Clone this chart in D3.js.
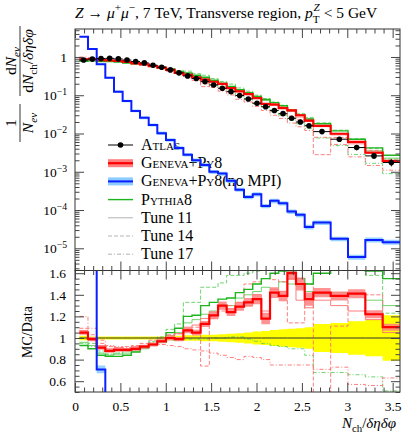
<!DOCTYPE html>
<html>
<head>
<meta charset="UTF-8">
<script src="https://d3js.org/d3.v7.min.js"></script>
<style>
body { margin: 0; background: #fff; }
svg text { font-family: "Liberation Serif", "DejaVu Serif", serif; }
.axis .domain { display: none; }
.axis line { stroke: #444; }
</style>
</head>
<body>
<svg width="415" height="433"></svg>
<script>

// bin edges in Nch/deta dphi (one charged particle = 1/10.472, wider bins at the end)
var binEdges = [0.048, 0.143, 0.239, 0.334, 0.430, 0.525, 0.621, 0.716, 0.812, 0.907,
  1.003, 1.098, 1.194, 1.289, 1.384, 1.480, 1.576, 1.671, 1.767, 1.862,
  1.958, 2.053, 2.149, 2.244, 2.340, 2.435, 2.531, 2.626, 2.817, 3.008,
  3.199, 3.390, 3.581];

var atlas = [0.83, 0.88, 0.91, 0.92, 0.89, 0.83, 0.76, 0.70, 0.61, 0.54,
  0.46, 0.385, 0.32, 0.275, 0.227, 0.186, 0.152, 0.124, 0.098, 0.080,
  0.062, 0.050, 0.040, 0.033, 0.025, 0.020, 0.016, 0.0112, 0.0071, 0.0043,
  0.0026, 0.00175];
var atlasErr = [0.02, 0.015, 0.015, 0.015, 0.015, 0.015, 0.015, 0.015, 0.015, 0.015,
  0.02, 0.02, 0.025, 0.025, 0.03, 0.03, 0.035, 0.04, 0.045, 0.05,
  0.06, 0.065, 0.075, 0.08, 0.085, 0.09, 0.10, 0.13, 0.14, 0.155,
  0.17, 0.21];

// MC / data
var geneva = [1.05, 0.99, 0.91, 0.88, 0.89, 0.89, 0.90, 0.92, 0.94, 0.97,
  1.00, 0.99, 1.07, 1.05, 1.13, 1.21, 1.30, 1.24, 1.29, 1.33,
  1.36, 1.18, 1.42, 1.39, 1.60, 1.50, 1.36, 1.42, 1.39, 1.41,
  1.22, 1.10];
var genevaErr = [0.02, 0.02, 0.02, 0.02, 0.02, 0.02, 0.02, 0.02, 0.02, 0.02,
  0.02, 0.02, 0.025, 0.025, 0.025, 0.03, 0.03, 0.03, 0.03, 0.03,
  0.035, 0.045, 0.035, 0.035, 0.04, 0.04, 0.045, 0.03, 0.03, 0.03,
  0.03, 0.03];
var genT11 = [1.07, 1.00, 0.93, 0.90, 0.91, 0.90, 0.92, 0.93, 0.95, 0.98,
  1.02, 1.04, 1.10, 1.12, 1.18, 1.24, 1.30, 1.27, 1.33, 1.30,
  1.40, 1.25, 1.45, 1.43, 1.55, 1.35, 1.28, 1.35, 1.30, 1.25,
  1.17, 1.05];
var genT14 = [1.09, 1.03, 0.95, 0.92, 0.91, 0.92, 0.93, 0.95, 0.98, 1.00,
  1.03, 1.04, 1.08, 1.10, 0.74, 1.18, 1.25, 1.30, 1.33, 1.50,
  1.52, 1.55, 1.54, 1.52, 1.14, 1.14, 1.50, 0.25, 1.11, 1.42,
  1.40, 1.10];
var genT17 = [1.20, 1.09, 0.98, 0.93, 0.92, 0.91, 0.91, 0.92, 0.93, 0.94,
  0.93, 0.92, 0.90, 0.89, 0.88, 0.86, 0.84, 0.82, 0.80, 0.83,
  0.82, 0.80, 0.75, 0.75, 0.75, 0.75, 0.75, 0.71, 0.73, 0.57,
  0.56, 0.63];
var pythia = [0.93, 0.90, 0.84, 0.83, 0.83, 0.84, 0.87, 0.91, 0.94, 0.96,
  1.05, 1.09, 1.20, 1.21, 1.30, 1.33, 1.36, 1.37, 1.42, 1.45,
  1.50, 1.55, 1.60, 1.62, 1.62, 1.55, 1.50, 1.60, 1.65, 1.65,
  1.62, 1.55];
var pyT11 = [0.96, 0.93, 0.86, 0.84, 0.85, 0.86, 0.88, 0.90, 0.93, 0.97,
  1.02, 1.05, 1.14, 1.17, 1.22, 1.25, 1.30, 1.30, 1.37, 1.40,
  1.43, 1.47, 1.45, 1.52, 1.50, 1.48, 1.43, 1.40, 1.42, 1.40,
  1.35, 1.30];
var pyT14 = [1.00, 0.95, 0.88, 0.85, 0.86, 0.88, 0.90, 0.93, 0.97, 1.01,
  1.08, 1.13, 1.33, 1.33, 1.47, 1.47, 1.51, 1.58, 1.58, 1.60,
  1.62, 1.64, 1.66, 1.66, 1.70, 1.68, 1.65, 1.70, 1.72, 1.70,
  1.58, 1.23];
var pyT17 = [0.95, 0.92, 0.86, 0.85, 0.86, 0.88, 0.90, 0.93, 0.96, 0.98,
  0.98, 0.98, 0.99, 0.99, 0.99, 1.00, 1.00, 1.01, 1.01, 0.99,
  0.97, 0.95, 0.93, 0.92, 0.90, 0.90, 0.84, 0.68, 0.68, 0.66,
  0.64, 0.51];

// Geneva+Py8 without MPI, absolute values
var noMpi = [3.39, 1.62, 0.645, 0.288, 0.124, 0.071, 0.039, 0.026, 0.0168, 0.0102,
  0.0068, 0.0042, 0.0028, 0.0020, 0.0015, 0.0010, 0.0009, 0.00058, 0.00034, 0.00022,
  0.00026, 0.000128, 0.000174, 0.000151, 0.000091, 0.000075, 0.000036, 0.000047, 0.0000177, 0.0000059,
  0.0000166, 0.0000145];
var noMpiErr = [0.02, 0.03, 0.05, 0.06, 0.07, 0.08, 0.08, 0.09, 0.09, 0.10,
  0.10, 0.10, 0.11, 0.11, 0.11, 0.12, 0.12, 0.12, 0.12, 0.13,
  0.13, 0.13, 0.13, 0.13, 0.13, 0.13, 0.14, 0.14, 0.14, 0.15,
  0.15, 0.15];

var xTicks = [0, 0.5, 1, 1.5, 2, 2.5, 3, 3.5];
var yTicks = [1e-5, 1e-4, 1e-3, 1e-2, 1e-1, 1];
var rTicks = [0.6, 0.8, 1, 1.2, 1.4, 1.6];

var legendNames = ["Atlas", "Geneva+Py8", "Geneva+Py8", "Pythia8", "Tune 11", "Tune 14", "Tune 17"];

var RED = "#ff0000", REDBAND = "#ff8080", BLUE = "#0a1eff", BLUEBAND = "#8cccff",
    GREEN = "#1db41d", TRED = "#ff6f6f", TGREEN = "#5fcf5f";

var svg = d3.select("svg"),
    L = 75, R = 400, T = 29, M = 270.5, B = 392;

var x = d3.scaleLinear().domain([0, 3.581]).range([L, R]);
var y = d3.scaleLog().domain([Math.pow(10, -5.58), Math.pow(10, 0.731)]).range([M, T]);
var yr = d3.scaleLinear().domain([0.5, 1.625]).range([B, M]);

var defs = svg.append("defs");
defs.append("clipPath").attr("id", "clipMain").append("rect")
    .attr("x", L).attr("y", T).attr("width", R - L).attr("height", M - T);
defs.append("clipPath").attr("id", "clipRat").append("rect")
    .attr("x", L).attr("y", M).attr("width", R - L).attr("height", B - M);

function steps(vals, errs) {
  var p = [];
  vals.forEach(function(v, i) {
    var e = errs ? errs[i] : 0;
    p.push([binEdges[i], v, e]);
    p.push([binEdges[i + 1], v, e]);
  });
  return p;
}
function times(r) { return r.map(function(v, i) { return v * atlas[i]; }); }
function over(a) { return a.map(function(v, i) { return v / atlas[i]; }); }

function drawLine(g, ys, vals, color, w, dash) {
  g.append("path")
      .attr("d", d3.line().x(function(d) { return x(d[0]); }).y(function(d) { return ys(d[1]); })(steps(vals)))
      .attr("fill", "none")
      .attr("stroke", color)
      .attr("stroke-width", w)
      .attr("stroke-dasharray", dash || null);
}
function drawBand(g, ys, vals, errs, color, op) {
  g.append("path")
      .attr("d", d3.area().x(function(d) { return x(d[0]); })
        .y0(function(d) { return ys(d[1] * (1 - d[2])); })
        .y1(function(d) { return ys(d[1] * (1 + d[2])); })(steps(vals, errs)))
      .attr("fill", color)
      .attr("opacity", op);
}

// ---- legend (drawn below the curves, as in the picture)
var leg = svg.append("g");
legendNames.forEach(function(name, i) {
  var cy = 145 + i * 18.2;
  if (i === 1 || i === 2) {
    leg.append("rect").attr("x", 108).attr("y", cy - 4).attr("width", 25).attr("height", 8)
      .attr("fill", i === 1 ? REDBAND : BLUEBAND);
  }
  var col = ["#000", RED, BLUE, GREEN, "#b3b3b3", "#b3b3b3", "#b3b3b3"][i];
  var wd = [1, 2.2, 2, 1.4, 1, 1, 1][i];
  var dash = [null, null, null, null, null, "4,2", "4,2,1,2"][i];
  leg.append("line").attr("x1", 108).attr("x2", 133).attr("y1", cy).attr("y2", cy)
    .attr("stroke", col).attr("stroke-width", wd).attr("stroke-dasharray", dash);
  if (i === 0) leg.append("circle").attr("cx", 120.5).attr("cy", cy).attr("r", 2.8).attr("fill", "#000");
  var t = leg.append("text").attr("x", 141).attr("y", cy + 5).attr("font-size", 16);
  var sc = t.append("tspan").text(name);
  if (i < 4) sc.style("font-variant", "small-caps");
  if (i === 2) t.append("tspan").text("(no MPI)");
});

// ---- main panel
var gm = svg.append("g").attr("clip-path", "url(#clipMain)");
var tuneR = [genT11, genT14, genT17], tuneG = [pyT11, pyT14, pyT17];
var dashes = [null, "4,2", "4,2,1,2"];
tuneG.forEach(function(t, i) { drawLine(gm, y, times(t), TGREEN, 0.9, dashes[i]); });
tuneR.forEach(function(t, i) { drawLine(gm, y, times(t), TRED, 0.9, dashes[i]); });
drawLine(gm, y, times(pythia), GREEN, 1.4);
drawBand(gm, y, times(geneva), genevaErr, REDBAND, 0.85);
drawLine(gm, y, times(geneva), RED, 2.2);
drawBand(gm, y, noMpi, noMpiErr, BLUEBAND, 0.9);
drawLine(gm, y, noMpi, BLUE, 2);

atlas.forEach(function(v, i) {
  var cx = x((binEdges[i] + binEdges[i + 1]) / 2);
  gm.append("line").attr("x1", x(binEdges[i])).attr("x2", x(binEdges[i + 1]))
    .attr("y1", y(v)).attr("y2", y(v)).attr("stroke", "#000").attr("stroke-width", 1);
  gm.append("line").attr("x1", cx).attr("x2", cx)
    .attr("y1", y(v * (1 - atlasErr[i]))).attr("y2", y(v * (1 + atlasErr[i])))
    .attr("stroke", "#000").attr("stroke-width", 1);
  gm.append("circle").attr("cx", cx).attr("cy", y(v)).attr("r", 2.8).attr("fill", "#000");
});

// ---- ratio panel
var gr = svg.append("g").attr("clip-path", "url(#clipRat)");
var ones = atlas.map(function() { return 1; });
drawBand(gr, yr, ones, atlasErr, "#ffff00", 1);
tuneG.forEach(function(t, i) { drawLine(gr, yr, t, TGREEN, 0.9, dashes[i]); });
tuneR.forEach(function(t, i) { drawLine(gr, yr, t, TRED, 0.9, dashes[i]); });
drawLine(gr, yr, ones, "#333", 1);
drawLine(gr, yr, pythia, GREEN, 1.4);
drawBand(gr, yr, geneva, genevaErr, REDBAND, 0.85);
drawLine(gr, yr, geneva, RED, 2.2);
drawBand(gr, yr, over(noMpi), noMpiErr, BLUEBAND, 0.9);
drawLine(gr, yr, over(noMpi), BLUE, 2);

// ---- frames and ticks
svg.append("rect").attr("x", L).attr("y", T).attr("width", R - L).attr("height", M - T)
  .attr("fill", "none").attr("stroke", "#333");
svg.append("rect").attr("x", L).attr("y", M).attr("width", R - L).attr("height", B - M)
  .attr("fill", "none").attr("stroke", "#333");

var xMinor = d3.range(0, 3.58, 0.1).filter(function(v) { return Math.abs(v * 2 - Math.round(v * 2)) > 1e-6; });
var yMinor = [];
d3.range(-6, 1).forEach(function(e) {
  d3.range(2, 10).forEach(function(m) {
    var v = m * Math.pow(10, e);
    if (v > y.domain()[0] && v < y.domain()[1]) yMinor.push(v);
  });
});
var rMinor = d3.range(0.5, 1.62, 0.05).filter(function(v) { return Math.abs(v * 5 - Math.round(v * 5)) > 1e-6; });

function ticks(gen, scale, vals, size, tx, ty) {
  return svg.append("g").attr("class", "axis").attr("transform", "translate(" + tx + "," + ty + ")")
    .call(gen(scale).tickValues(vals).tickSize(size).tickFormat(""));
}
ticks(d3.axisTop, x, xTicks, -9, 0, T);
ticks(d3.axisTop, x, xMinor, -4.5, 0, T);
ticks(d3.axisBottom, x, xTicks, -9, 0, M);
ticks(d3.axisBottom, x, xMinor, -4.5, 0, M);
ticks(d3.axisTop, x, xTicks, -9, 0, M);
ticks(d3.axisTop, x, xMinor, -4.5, 0, M);
ticks(d3.axisBottom, x, xMinor, -4.5, 0, B);
ticks(d3.axisLeft, y, yMinor, -4.5, L, 0);
ticks(d3.axisRight, y, yTicks, -9, R, 0);
ticks(d3.axisRight, y, yMinor, -4.5, R, 0);
ticks(d3.axisLeft, yr, rMinor, -4.5, L, 0);
ticks(d3.axisRight, yr, rTicks, -9, R, 0);
ticks(d3.axisRight, yr, rMinor, -4.5, R, 0);

var gxb = svg.append("g").attr("class", "axis").attr("transform", "translate(0," + B + ")")
  .call(d3.axisBottom(x).tickValues(xTicks).tickSize(-9).tickPadding(9).tickFormat(function(d) { return d; }));
var gyl = svg.append("g").attr("class", "axis").attr("transform", "translate(" + L + ",0)")
  .call(d3.axisLeft(y).tickValues(yTicks).tickSize(-9).tickPadding(8).tickFormat(""));
gyl.selectAll(".tick text").each(function(d) {
  var t = d3.select(this), e = Math.round(Math.log10(d));
  if (e === 0) { t.text("1"); return; }
  t.text("10");
  t.append("tspan").attr("dy", "-0.5em").attr("font-size", "0.72em").text("\u2212" + (-e));
});
var grl = svg.append("g").attr("class", "axis").attr("transform", "translate(" + L + ",0)")
  .call(d3.axisLeft(yr).tickValues(rTicks).tickSize(-9).tickPadding(9).tickFormat(function(d) { return d; }));
[gxb, gyl, grl].forEach(function(g) {
  g.attr("font-family", null).attr("font-size", 13.5);
  g.selectAll("text").attr("fill", "#000");
});

// ---- rich text helper (sub / sup shifts can be overridden per text)
function rich(t, parts, subDy, supDy) {
  var cur = 0;
  subDy = subDy || 4; supDy = supDy || -6;
  parts.forEach(function(p) {
    var sh = p.sub ? subDy : (p.sup ? supDy : 0);
    var ts = t.append("tspan").text(p.t).attr("dy", sh - cur);
    if (p.dx) ts.attr("dx", p.dx);
    if (p.it) ts.attr("font-style", "italic");
    if (p.sub || p.sup) ts.attr("font-size", "0.72em");
    cur = sh;
  });
  return t;
}

// title
var title = svg.append("text").attr("x", L).attr("y", 18).attr("font-size", 15.5);
rich(title, [
  { t: "Z", it: true }, { t: " \u2192 " }, { t: "\u03bc", it: true }, { t: "+", sup: true },
  { t: "\u03bc", it: true }, { t: "\u2212", sup: true }, { t: ", 7 TeV, Transverse region, " },
  { t: "p", it: true }, { t: "T", sub: true }, { t: "Z", sup: true, it: true, dx: -6 },
  { t: " < 5 GeV" }
], 5, -7);

// x label
var xl = svg.append("text").attr("x", 396).attr("y", 428).attr("text-anchor", "end").attr("font-size", 15);
rich(xl, [{ t: "N", it: true }, { t: "ch", sub: true }, { t: "/" }, { t: "\u03b4\u03b7\u03b4\u03c6", it: true }]);

// y label main: 1/N_ev  dN_ev / (dN_ch / deta dphi)
function frac(cy, half, num, den) {
  var g = svg.append("g").attr("transform", "translate(20," + cy + ") rotate(-90)");
  g.append("line").attr("x1", -half).attr("x2", half).attr("y1", 0).attr("y2", 0)
    .attr("stroke", "#000").attr("stroke-width", 0.8);
  rich(g.append("text").attr("y", -4).attr("text-anchor", "middle").attr("font-size", 15.5), num);
  rich(g.append("text").attr("y", 13).attr("text-anchor", "middle").attr("font-size", 15.5), den);
}
frac(123, 19, [{ t: "1" }], [{ t: "N", it: true }, { t: "ev", it: true, sub: true }]);
frac(61, 35, [{ t: "d" }, { t: "N", it: true }, { t: "ev", it: true, sub: true }],
  [{ t: "d" }, { t: "N", it: true }, { t: "ch", sub: true }, { t: "/" }, { t: "\u03b4\u03b7\u03b4\u03c6", it: true }]);

svg.append("text").attr("transform", "translate(32,332) rotate(-90)")
  .attr("text-anchor", "middle").attr("font-size", 14).text("MC/Data");

</script>
</body>
</html>
